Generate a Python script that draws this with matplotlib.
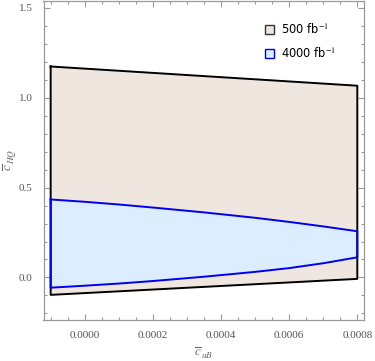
import matplotlib
matplotlib.use('Agg')
import matplotlib.pyplot as plt
from matplotlib.ticker import MultipleLocator
from matplotlib.patches import Patch

plt.rcParams['mathtext.fontset'] = 'stix'

# 500 fb^-1 region (straight edges)
x_500 = [-0.0001, 0.0008]
top_500 = [1.174, 1.067]
bot_500 = [-0.097, -0.008]

# 4000 fb^-1 region
x_4000 = [-0.0001, 0.0, 0.0001, 0.0002, 0.00035, 0.0005, 0.0006, 0.0007, 0.0008]
top_4000 = [0.434, 0.421, 0.406, 0.389, 0.362, 0.332, 0.309, 0.284, 0.257]
bot_4000 = [-0.057, -0.046, -0.034, -0.020, 0.004, 0.031, 0.052, 0.079, 0.112]

labels = ['500 fb$^{-1}$', '4000 fb$^{-1}$']

fig = plt.figure(figsize=(3.75, 3.61), dpi=100)
ax = fig.add_axes([0.116, 0.114, 0.855, 0.884])

fill1, edge1 = '#efe6e0', 'black'
fill2, edge2 = '#dcedff', '#0000ee'

ax.fill_between(x_500, bot_500, top_500, color=fill1, lw=0)
ax.plot(x_500 + x_500[::-1] + [x_500[0]], top_500 + bot_500[::-1] + [top_500[0]], color=edge1, lw=1.4)
ax.fill_between(x_4000, bot_4000, top_4000, color=fill2, lw=0)
ax.plot(x_4000 + x_4000[::-1] + [x_4000[0]], top_4000 + bot_4000[::-1] + [top_4000[0]], color=edge2, lw=1.4)

ax.set_xlim(-0.000121, 0.00082)
ax.set_ylim(-0.236, 1.54)

gray = '#9a9a9a'
ax.xaxis.set_major_locator(MultipleLocator(0.0002))
ax.xaxis.set_minor_locator(MultipleLocator(0.00005))
ax.yaxis.set_major_locator(MultipleLocator(0.5))
ax.yaxis.set_minor_locator(MultipleLocator(0.1))
ax.xaxis.set_major_formatter(lambda v, p: f'{v:.4f}')
ax.yaxis.set_major_formatter(lambda v, p: f'{v:.1f}')
ax.tick_params(which='both', direction='in', top=True, right=True, color=gray, width=0.8)
ax.tick_params(which='major', length=4, labelsize=8, labelcolor='#555555', pad=8)
ax.tick_params(which='minor', length=2.2)
for lab in ax.get_xticklabels() + ax.get_yticklabels():
    lab.set_family('Liberation Serif')
for s in ax.spines.values():
    s.set_color(gray)
    s.set_linewidth(0.9)

ax.set_xlabel(r'$\overline{c}_{\,uB}$', fontsize=9.5, color='#666666', labelpad=4)
ax.set_ylabel(r'$\overline{c}_{\,HQ}$', fontsize=9.5, color='#666666')
ax.yaxis.set_label_coords(-0.08, 0.5)

handles = [Patch(facecolor=fill1, edgecolor='#333333', lw=1),
           Patch(facecolor=fill2, edgecolor=edge2, lw=1)]
ax.legend(handles, labels, loc='upper right', bbox_to_anchor=(0.945, 0.965), frameon=False,
          fontsize=8.3, handlelength=0.8, handleheight=0.8, labelspacing=0.85, handletextpad=0.6)

fig.savefig('out.png', dpi=100)
